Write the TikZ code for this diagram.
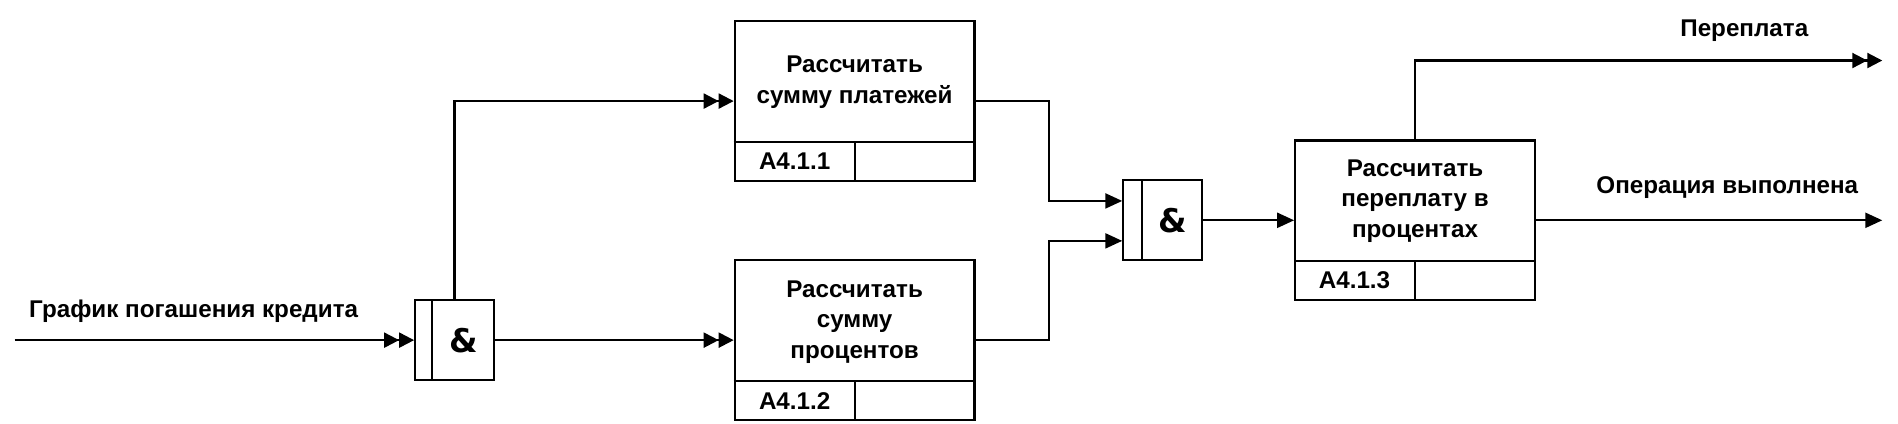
\documentclass[tikz,border=0pt]{standalone}
\usepackage{fontspec}
\setmainfont{Liberation Sans}
\newfontfamily\ampfont{DejaVu Sans}
\usetikzlibrary{arrows.meta,calc}
\begin{document}
\begin{tikzpicture}[x=1pt,y=-1pt,
  lw/.style={line width=1.8pt},
  procbox/.style={draw,lw,rectangle,minimum width=198pt,minimum height=132pt,inner sep=0pt},
  gatebox/.style={draw,lw,rectangle,minimum width=65pt,minimum height=66pt,inner sep=0pt},
  lbl/.style={font=\fontsize{20}{25}\selectfont\bfseries,align=center,inner sep=0pt},
  amp/.style={font=\ampfont\fontsize{27}{27}\selectfont\bfseries,inner sep=0pt},
  sgl/.style={lw,-{Triangle[length=14pt,width=12.4pt]}},
  dbl/.style={lw,-{Triangle[length=12.4pt,width=12.4pt]Triangle[length=12.4pt,width=12.4pt]}}]
\useasboundingbox (0,0) rectangle (1568,350);
% boxes
\node[procbox] (b1) at (706,83.5) {};
\node[procbox] (b2) at (706,281) {};
\node[procbox] (b3) at (1169,182) {};
\node[gatebox] (g1) at (375.5,281) {};
\node[gatebox] (g2) at (960.5,182) {};
% box dividers
\foreach \b in {b1,b2,b3}{
  \draw[lw] ($(\b.south west)+(0,-33)$) -- ($(\b.south east)+(0,-33)$);
  \draw[lw] ($(\b.south)+(0,-33)$) -- (\b.south);
}
% gate dividers
\draw[lw] ($(g1.north west)+(15,0)$) -- ($(g1.south west)+(15,0)$);
\draw[lw] ($(g2.north west)+(16,0)$) -- ($(g2.south west)+(16,0)$);
% texts
\node[lbl] (t1) at (706,68) {Рассчитать\\сумму платежей};
\node[lbl] (t2) at (706,266) {Рассчитать\\сумму\\процентов};
\node[lbl] (t3) at (1169,166) {Рассчитать\\переплату в\\процентах};
\node[lbl] (n1) at (656.5,133.5) {A4.1.1};
\node[lbl] (n2) at (656.5,331) {A4.1.2};
\node[lbl] (n3) at (1119,231.5) {A4.1.3};
\node[amp] (a1) at (383,281) {\&};
\node[amp] (a2) at (968.5,182) {\&};
\node[lbl] (l1) at (160,257) {График погашения кредита};
\node[lbl] (l2) at (1441,25) {Переплата};
\node[lbl] (l3) at (1427,155) {Операция выполнена};
% connectors
\coordinate (in) at (12,281);
\coordinate (o1) at (1555,50);
\coordinate (o2) at (1555,182);
\draw[dbl] (in) -- (g1.west);
\draw[dbl] (g1.north) |- (b1.west);
\draw[dbl] (g1.east) -- (b2.west);
\draw[sgl] (b1.east) -- ++(61,0) |- ($(g2.west)+(0,-16)$);
\draw[sgl] (b2.east) -- ++(61,0) |- ($(g2.west)+(0,17)$);
\draw[sgl] (g2.east) -- (b3.west);
\draw[dbl] (b3.north) |- (o1);
\draw[sgl] (b3.east) -- (o2);
\end{tikzpicture}
\end{document}
